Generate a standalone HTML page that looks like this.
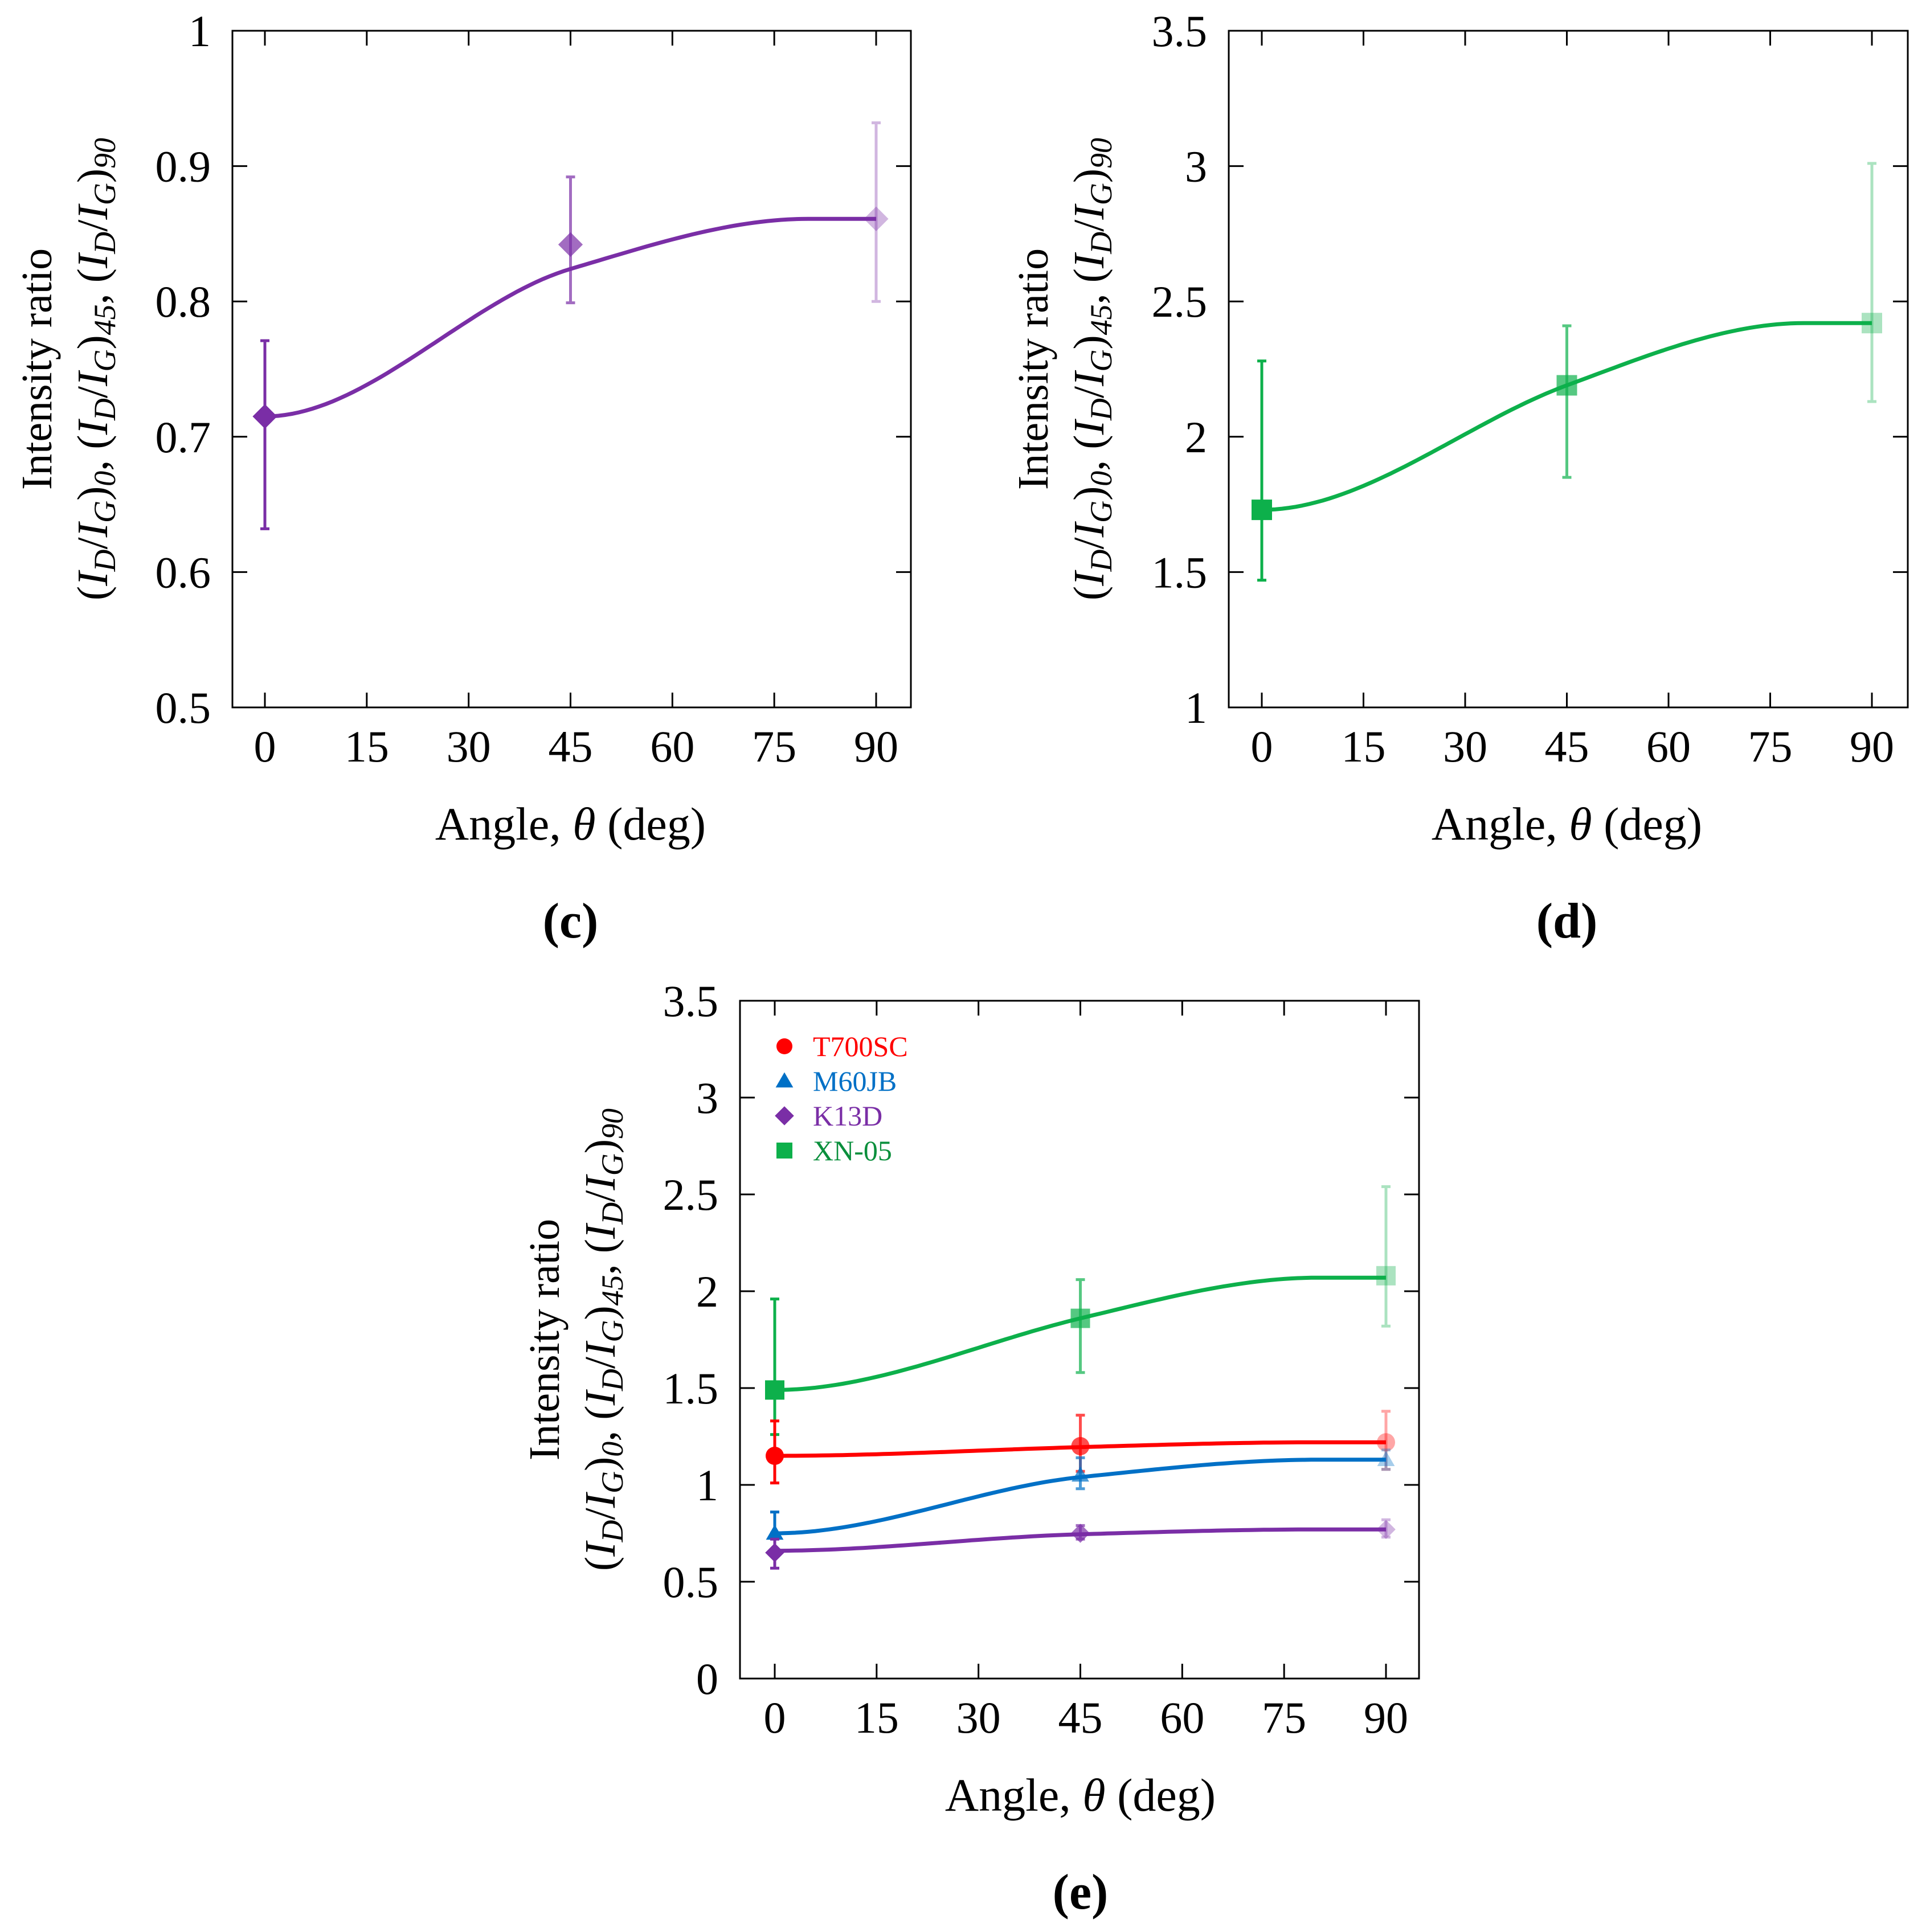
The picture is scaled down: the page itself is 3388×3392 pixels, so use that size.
<!DOCTYPE html>
<html><head><meta charset="utf-8"><style>
html,body{margin:0;padding:0;background:#fff}
svg{display:block}
text{font-family:"Liberation Serif",serif;fill:#000}
</style></head><body>
<svg id="fig" xmlns="http://www.w3.org/2000/svg" width="3388" height="3392" viewBox="0 0 3388 3392"></svg>
<script>
const angles = [0, 45, 90];
const xTicks = [0, 15, 30, 45, 60, 75, 90];
const cTicks = [0.5, 0.6, 0.7, 0.8, 0.9, 1];
const cTickLabels = ["0.5","0.6","0.7","0.8","0.9","1"];
const dTicks = [1, 1.5, 2, 2.5, 3, 3.5];
const dTickLabels = ["1","1.5","2","2.5","3","3.5"];
const eTicks = [0, 0.5, 1, 1.5, 2, 2.5, 3, 3.5];
const eTickLabels = ["0","0.5","1","1.5","2","2.5","3","3.5"];

const k13dC = [0.715, 0.842, 0.861];
const k13dCLo = [0.632, 0.799, 0.800];
const k13dCHi = [0.771, 0.892, 0.932];
const k13dCFit = [0.715, 0.824, 0.861];

const xn05D = [1.73, 2.19, 2.42];
const xn05DLo = [1.47, 1.85, 2.13];
const xn05DHi = [2.28, 2.41, 3.01];
const xn05DFit = [1.73, 2.19, 2.42];

const seriesNames = ["T700SC", "M60JB", "K13D", "XN-05"];
const t700 = [1.15, 1.20, 1.22];
const t700Lo = [1.01, 1.07, 1.08];
const t700Hi = [1.33, 1.36, 1.38];
const t700Fit = [1.15, 1.195, 1.22];
const m60 = [0.75, 1.05, 1.13];
const m60Lo = [0.75, 0.98, 1.08];
const m60Hi = [0.86, 1.14, 1.18];
const m60Fit = [0.75, 1.04, 1.13];
const k13 = [0.65, 0.75, 0.77];
const k13Lo = [0.57, 0.72, 0.73];
const k13Hi = [0.72, 0.79, 0.82];
const k13Fit = [0.66, 0.745, 0.77];
const xn = [1.49, 1.86, 2.08];
const xnLo = [1.26, 1.58, 1.82];
const xnHi = [1.96, 2.06, 2.54];
const xnFit = [1.49, 1.86, 2.07];

const NS = "http://www.w3.org/2000/svg";
const svg = document.getElementById('fig');
function el(tag, attrs, parent){
  const e = document.createElementNS(NS, tag);
  for (const k in attrs) e.setAttribute(k, attrs[k]);
  (parent||svg).appendChild(e);
  return e;
}
const alphas = [1, 0.7, 0.35];

function marker(g, shape, cx, cy, color, op, s){
  let m;
  if (shape === 'circle') m = el('circle', {cx, cy, r: s}, g);
  else if (shape === 'square') m = el('rect', {x: cx-s, y: cy-s, width: 2*s, height: 2*s}, g);
  else if (shape === 'diamond') m = el('polygon', {points: `${cx},${cy-s*1.2} ${cx+s*1.2},${cy} ${cx},${cy+s*1.2} ${cx-s*1.2},${cy}`}, g);
  else m = el('polygon', {points: `${cx},${cy-s*1.1} ${cx+s*1.1},${cy+s*0.8} ${cx-s*1.1},${cy+s*0.8}`}, g);
  m.setAttribute('fill', color);
  m.setAttribute('fill-opacity', op);
  
  
  return m;
}

function herm(y0, y1, s0, s1, h, u){
  const h00=2*u*u*u-3*u*u+1, h10=u*u*u-2*u*u+u, h01=-2*u*u*u+3*u*u, h11=u*u*u-u*u;
  return h00*y0+h10*h*s0+h01*y1+h11*h*s1;
}
function fitCurve(fit){
  const PL = 80;
  const d2 = fit[2]-fit[1];
  const s = 1.4*d2/(PL-45);
  const pts = [];
  for (let t = 0; t <= 90; t += 1){
    let y;
    if (t <= 45) y = herm(fit[0], fit[1], 0, s, 45, t/45);
    else if (t <= PL) y = herm(fit[1], fit[2], s, 0, PL-45, (t-45)/(PL-45));
    else y = fit[2];
    pts.push([t, y]);
  }
  return pts;
}

function drawAxes(cfg){
  const g = el('g', {});
  
  
  const X = v => cfg.x0 + (v/90)*(cfg.x90-cfg.x0);
  const Y = v => cfg.bottom - (v-cfg.ymin)/(cfg.ymax-cfg.ymin)*(cfg.bottom-cfg.top);
  const frame = el('rect', {x: cfg.left, y: cfg.top, width: cfg.right-cfg.left, height: cfg.bottom-cfg.top, fill: 'none', stroke: '#000', 'stroke-width': 3}, g);
  
  
  cfg.yTicks.forEach((v, i) => {
    const y = Y(v);
    el('line', {x1: cfg.left, x2: cfg.left+26, y1: y, y2: y, stroke: '#000', 'stroke-width': 3}, g);
    el('line', {x1: cfg.right, x2: cfg.right-26, y1: y, y2: y, stroke: '#000', 'stroke-width': 3}, g);
    const t = el('text', {x: cfg.left-38, y: y+27, 'text-anchor': 'end', 'font-size': 78}, g);
    t.textContent = cfg.yLabels[i];
    
    
  });
  xTicks.forEach(v => {
    const x = X(v);
    el('line', {x1: x, x2: x, y1: cfg.bottom, y2: cfg.bottom-26, stroke: '#000', 'stroke-width': 3}, g);
    el('line', {x1: x, x2: x, y1: cfg.top, y2: cfg.top+26, stroke: '#000', 'stroke-width': 3}, g);
    const t = el('text', {x: x, y: cfg.bottom+95, 'text-anchor': 'middle', 'font-size': 78}, g);
    t.textContent = String(v);
    
    
  });
  const xt = el('text', {x: (cfg.x0+cfg.x90)/2, y: cfg.bottom+232, 'text-anchor': 'middle', 'font-size': 82}, g);
  xt.innerHTML = 'Angle, <tspan font-style="italic">θ</tspan> (deg)';
  
  
  const cy = (cfg.top+cfg.bottom)/2;
  const y1 = el('text', {x: 0, y: 0, 'text-anchor': 'middle', 'font-size': 76, transform: `translate(${cfg.left-318},${cy}) rotate(-90)`}, g);
  y1.textContent = 'Intensity ratio';
  
  
  const sub = (s) => `<tspan font-size="54" baseline-shift="-14">${s}</tspan>`;
  const I = (s) => `<tspan font-style="italic">I</tspan>${sub('<tspan font-style="italic">'+s+'</tspan>')}`;
  const grp = (n) => `(${I('D')}/${I('G')})${sub('<tspan font-style="italic">'+n+'</tspan>')}`;
  const y2 = el('text', {x: 0, y: 0, 'text-anchor': 'middle', 'font-size': 76, transform: `translate(${cfg.left-220},${cy}) rotate(-90)`}, g);
  y2.innerHTML = `${grp('0')}, ${grp('45')}, ${grp('90')}`;
  
  
  const pl = el('text', {x: (cfg.x0+cfg.x90)/2, y: cfg.bottom+404, 'text-anchor': 'middle', 'font-size': 88, 'font-weight': 'bold'}, g);
  pl.textContent = cfg.panel;
  
  
  return {g, X, Y};
}

function drawSeries(ax, vals, lo, hi, fit, color, shape, s, name){
  const g = el('g', {}, ax.g);
  
  
  const pts = fitCurve(fit).map(p => `${ax.X(p[0]).toFixed(1)},${ax.Y(p[1]).toFixed(1)}`).join(' ');
  const line = el('polyline', {points: pts, fill: 'none', stroke: color, 'stroke-width': 7}, g);
  
  
  angles.forEach((a, i) => {
    const x = ax.X(a);
    const eb = el('path', {d: `M${x},${ax.Y(lo[i])}V${ax.Y(hi[i])}M${x-8},${ax.Y(lo[i])}h16M${x-8},${ax.Y(hi[i])}h16`, stroke: color, 'stroke-width': 5, 'stroke-opacity': alphas[i], fill: 'none'}, g);
    
    
    marker(g, shape, x, ax.Y(vals[i]), color, alphas[i], s);
  });
}

const PURPLE = '#7A2EA6', GREEN = '#0DB04B', RED = '#FF0000', BLUE = '#0070C6';

const c = drawAxes({name: 'chart-c', panel: '(c)', left: 408, right: 1599, top: 54, bottom: 1242, x0: 465, x90: 1538, ymin: 0.5, ymax: 1, yTicks: cTicks, yLabels: cTickLabels});
drawSeries(c, k13dC, k13dCLo, k13dCHi, k13dCFit, PURPLE, 'diamond', 18, 'k13d');

const d = drawAxes({name: 'chart-d', panel: '(d)', left: 2157, right: 3349, top: 54, bottom: 1242, x0: 2215, x90: 3286, ymin: 1, ymax: 3.5, yTicks: dTicks, yLabels: dTickLabels});
drawSeries(d, xn05D, xn05DLo, xn05DHi, xn05DFit, GREEN, 'square', 18, 'xn05');

const e = drawAxes({name: 'chart-e', panel: '(e)', left: 1299, right: 2491, top: 1757, bottom: 2947, x0: 1360, x90: 2433, ymin: 0, ymax: 3.5, yTicks: eTicks, yLabels: eTickLabels});
drawSeries(e, xn, xnLo, xnHi, xnFit, GREEN, 'square', 17, 'xn05');
drawSeries(e, t700, t700Lo, t700Hi, t700Fit, RED, 'circle', 16, 't700sc');
drawSeries(e, m60, m60Lo, m60Hi, m60Fit, BLUE, 'triangle', 14, 'm60jb');
drawSeries(e, k13, k13Lo, k13Hi, k13Fit, PURPLE, 'diamond', 14, 'k13d');

const legColors = [RED, BLUE, PURPLE, '#0A8F3C'];
const legMarkColors = [RED, BLUE, PURPLE, GREEN];
const legShapes = ['circle', 'triangle', 'diamond', 'square'];
const legG = el('g', {});


seriesNames.forEach((n, i) => {
  const y = 1837 + i*61;
  const eg = el('g', {}, legG);
  
  
  marker(eg, legShapes[i], 1377, y, legMarkColors[i], 1, 14);
  const t = el('text', {x: 1427, y: y+17, 'font-size': 50, fill: legColors[i]}, eg);
  t.style.fill = legColors[i];
  t.textContent = n;
});
</script>
</body></html>
